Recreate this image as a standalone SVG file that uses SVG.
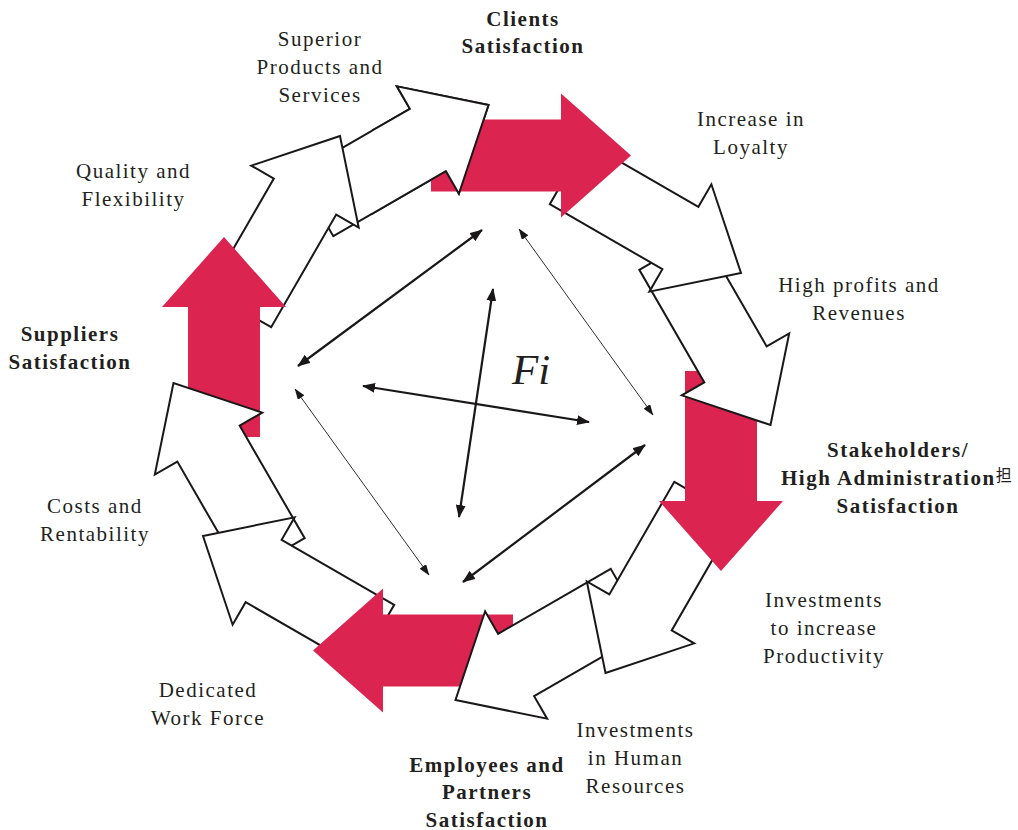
<svg xmlns="http://www.w3.org/2000/svg" width="1018" height="830" viewBox="0 0 1018 830">
<style>
.wa{fill:#ffffff;stroke:#1a1718;stroke-width:2;stroke-linejoin:miter}
.ra{fill:#DC2450;stroke:none}
.t{font-family:"Liberation Serif","Times New Roman",serif;font-size:21px;fill:#231F20;letter-spacing:1.5px;text-anchor:middle}
.b{font-weight:bold}
.c{stroke:#1a1718;fill:none}
.thick{stroke-width:2.2;marker-start:url(#ahL);marker-end:url(#ahL)}
.thin{stroke-width:0.9;marker-start:url(#ahS);marker-end:url(#ahS)}
</style>
<defs>
<polygon id="blk" points="0,0 -70,-62 -70,-36 -200,-36 -200,36 -70,36 -70,62"/>
<marker id="ahL" viewBox="0 0 13 10" refX="12" refY="5" markerWidth="13" markerHeight="10" markerUnits="userSpaceOnUse" orient="auto-start-reverse"><path d="M0,0 L13,5 L0,10 Z" fill="#1a1718"/></marker>
<marker id="ahS" viewBox="0 0 11 8" refX="10.5" refY="4" markerWidth="11" markerHeight="8" markerUnits="userSpaceOnUse" orient="auto-start-reverse"><path d="M0,0 L11,4 L0,8 Z" fill="#1a1718"/></marker>
<clipPath id="clip11"><rect x="372" y="0" width="200" height="260"/></clipPath>
</defs>
<rect x="0" y="0" width="1018" height="830" fill="#ffffff"/>

<g id="node-superior-products">
<use id="arrow11" href="#blk" class="wa" transform="translate(488.5,105) rotate(330)"/>
<text class="t" x="320" y="46">Superior</text>
<text class="t" x="320" y="74">Products and</text>
<text class="t" x="320" y="102">Services</text>
</g>
<g id="node-quality-flexibility">
<use href="#blk" class="wa" transform="translate(340,136) rotate(300)"/>
<text class="t" x="133.5" y="178">Quality and</text>
<text class="t" x="133.5" y="206">Flexibility</text>
</g>
<g id="node-suppliers">
<use href="#blk" class="ra" transform="translate(224,237) rotate(270)"/>
<text class="t b" x="70" y="341">Suppliers</text>
<text class="t b" x="70" y="369">Satisfaction</text>
</g>
<g id="node-costs-rentability">
<use href="#blk" class="wa" transform="translate(173.5,383) rotate(240)"/>
<text class="t" x="95" y="513">Costs and</text>
<text class="t" x="95" y="541">Rentability</text>
</g>
<g id="node-dedicated-work-force">
<use href="#blk" class="wa" transform="translate(203,536) rotate(210)"/>
<text class="t" x="208" y="697">Dedicated</text>
<text class="t" x="208" y="725">Work Force</text>
</g>
<g id="node-employees">
<use href="#blk" class="ra" transform="translate(313,650.5) rotate(180)"/>
<text class="t b" x="487" y="772">Employees and</text>
<text class="t b" x="487" y="799">Partners</text>
<text class="t b" x="487" y="827">Satisfaction</text>
</g>
<g id="node-investments-human">
<use href="#blk" class="wa" transform="translate(455.5,700) rotate(150)"/>
<text class="t" x="635.5" y="737">Investments</text>
<text class="t" x="635.5" y="765">in Human</text>
<text class="t" x="635.5" y="793">Resources</text>
</g>
<g id="node-investments-productivity">
<use href="#blk" class="wa" transform="translate(605.5,673) rotate(120)"/>
<text class="t" x="824" y="607">Investments</text>
<text class="t" x="824" y="635">to increase</text>
<text class="t" x="824" y="663">Productivity</text>
</g>
<g id="node-stakeholders">
<use href="#blk" class="ra" transform="translate(721,571) rotate(90)"/>
<text class="t b" x="898" y="457">Stakeholders/</text>
<text class="t b" x="781" y="485" style="text-anchor:start">High Administration<tspan style="font-family:'Noto Sans CJK SC',sans-serif;font-weight:normal;font-size:16px;letter-spacing:0" dy="-4">担</tspan></text>
<text class="t b" x="898" y="513">Satisfaction</text>
</g>
<g id="node-high-profits">
<use href="#blk" class="wa" transform="translate(770.5,425) rotate(60)"/>
<text class="t" x="859" y="292">High profits and</text>
<text class="t" x="859" y="320">Revenues</text>
</g>
<g id="node-loyalty">
<use href="#blk" class="wa" transform="translate(741,273) rotate(30)"/>
<text class="t" x="751" y="126">Increase in</text>
<text class="t" x="751" y="154">Loyalty</text>
</g>
<g id="node-clients">
<use href="#blk" class="ra" transform="translate(631,155.5) rotate(0)"/>
<text class="t b" x="523" y="26">Clients</text>
<text class="t b" x="523" y="53">Satisfaction</text>
</g>
<g id="arrow11-overlap" clip-path="url(#clip11)">
<use href="#blk" class="wa" transform="translate(488.5,105) rotate(330)"/>
</g>

<g id="node-center">
<text x="512" y="384" style="font-family:'Liberation Serif','Times New Roman',serif;font-style:italic;font-size:43px;fill:#231F20">Fi</text>
</g>

<g id="connectors">
<line class="c thick" x1="482" y1="230" x2="298" y2="366"/>
<line class="c thin" x1="519" y1="229" x2="653" y2="415"/>
<line class="c thin" x1="295" y1="389" x2="429" y2="575"/>
<line class="c thick" x1="645" y1="445" x2="463" y2="582"/>
<line class="c thick" x1="493" y1="289" x2="459" y2="517"/>
<line class="c thick" x1="363" y1="386" x2="589" y2="422"/>
</g>
</svg>
